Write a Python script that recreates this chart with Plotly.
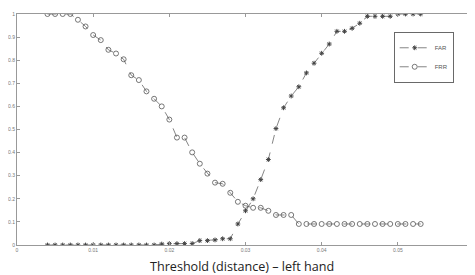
import plotly.graph_objects as go

threshold = [round(0.004 + 0.001 * i, 3) for i in range(50)]

far = [0, 0, 0, 0, 0, 0, 0, 0, 0, 0,
       0, 0, 0, 0, 0, 0.004, 0.006, 0.006, 0.006, 0.006,
       0.019, 0.019, 0.022, 0.027, 0.027, 0.091, 0.148, 0.2, 0.283, 0.37,
       0.504, 0.594, 0.645, 0.685, 0.745, 0.787, 0.83, 0.87, 0.925, 0.925,
       0.938, 0.96, 0.99, 0.99, 0.99, 0.99, 1.0, 1.0, 1.0, 1.0]

frr = [1.0, 1.0, 1.0, 1.0, 0.975, 0.946, 0.909, 0.887, 0.845, 0.829,
       0.804, 0.735, 0.714, 0.665, 0.633, 0.60, 0.543, 0.465, 0.465, 0.401,
       0.352, 0.309, 0.27, 0.265, 0.226, 0.187, 0.17, 0.161, 0.161, 0.148,
       0.13, 0.13, 0.13, 0.091, 0.091, 0.091, 0.091, 0.091, 0.091, 0.091,
       0.091, 0.091, 0.091, 0.091, 0.091, 0.091, 0.091, 0.091, 0.091, 0.091]

x_ticks = [0, 0.01, 0.02, 0.03, 0.04, 0.05, 0.06]
x_tick_labels = ["0", "0.01", "0.02", "0.03", "0.04", "0.05", "0.06"]
y_ticks = [0, 0.1, 0.2, 0.3, 0.4, 0.5, 0.6, 0.7, 0.8, 0.9, 1]
y_tick_labels = ["0", "0.1", "0.2", "0.3", "0.4", "0.5", "0.6", "0.7", "0.8", "0.9", "1"]
x_title = "Threshold (distance) \u2013 left hand"

line_col = "#666666"

fig = go.Figure()
fig.add_trace(go.Scatter(
    x=threshold, y=far, name="FAR", mode="lines+markers",
    line=dict(color=line_col, width=0.8, dash="dash"),
    marker=dict(symbol="asterisk-open", size=4, color="#444444", line=dict(width=1, color="#444444")),
))
fig.add_trace(go.Scatter(
    x=threshold, y=frr, name="FRR", mode="lines+markers",
    line=dict(color=line_col, width=0.8, dash="dash"),
    marker=dict(symbol="circle-open", size=5, color="#555555", line=dict(width=0.8, color="#555555")),
))

axis_common = dict(
    showgrid=False, zeroline=False, showline=True, linecolor="#999999", linewidth=1,
    mirror="ticks", ticks="inside", ticklen=3, tickcolor="#999999", automargin=False,
    tickfont=dict(size=5, color="#777777", family="Liberation Sans"),
)

fig.update_layout(
    width=467, height=267,
    margin=dict(l=9, r=1, t=6, b=30, autoexpand=False),
    paper_bgcolor="white", plot_bgcolor="white",
    showlegend=True,
    legend=dict(
        x=0.956, y=0.92, xanchor="right", yanchor="top",
        bgcolor="white", bordercolor="#444444", borderwidth=0.8,
        font=dict(size=6, color="#555555", family="Liberation Sans"),
        itemwidth=30, tracegroupgap=0,
    ),
    xaxis=dict(range=[0, 0.06], tickvals=x_ticks, ticktext=x_tick_labels, **axis_common),
    yaxis=dict(range=[0, 1], tickvals=y_ticks, ticktext=y_tick_labels, **axis_common),
    annotations=[dict(
        text=x_title, xref="paper", yref="paper", x=0.492, y=0,
        xanchor="center", yanchor="middle", yshift=-21, showarrow=False,
        font=dict(size=12.6, color="#222222", family="Open Sans"),
    )],
)

fig.write_html("out.html")
